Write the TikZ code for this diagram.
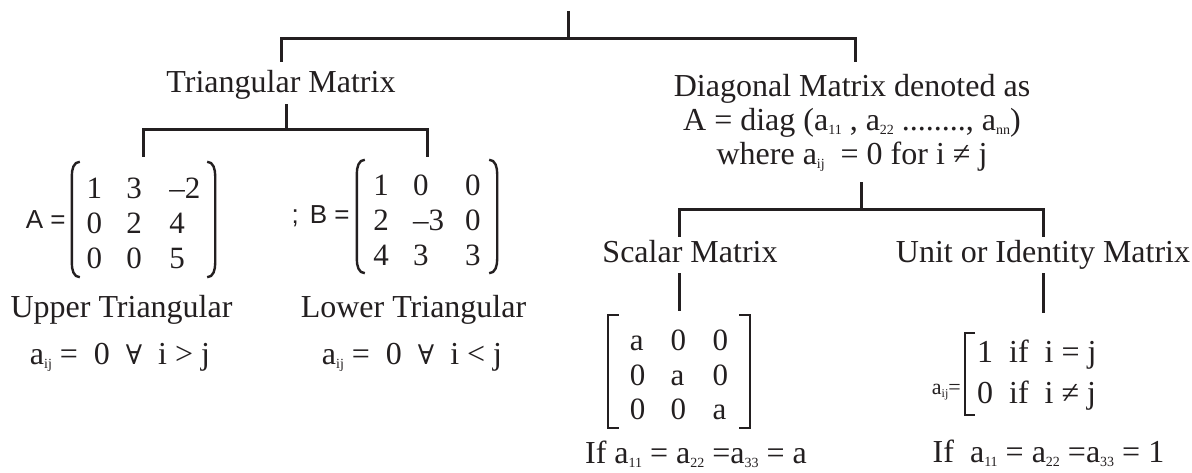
\documentclass[tikz,border=0pt]{standalone}
\usepackage{fontspec}
\setmainfont{Liberation Serif}
\newfontfamily\sansf{Liberation Sans}
\newfontfamily\symf{DejaVu Serif}
\definecolor{ink}{HTML}{231F20}
\newcommand\sbx[1]{\raisebox{-4pt}{\fontsize{14}{14}\selectfont #1}}
\newcommand\fall{{\symf\fontsize{27}{27}\selectfont ∀}}
\setlength\tabcolsep{0pt}
\tikzset{
 lbl/.style={font=\fontsize{32}{34}\selectfont, inner sep=0pt, text=ink, anchor=base},
 mat/.style={font=\fontsize{31}{35}\selectfont, inner sep=0pt, text=ink, anchor=base},
 eqs/.style={font=\sansf\fontsize{26}{26}\selectfont, inner sep=0pt, text=ink, anchor=east},
 conn/.style={draw=ink, line width=3pt},
 delim/.style={draw=ink, line width=2.4pt},
}
\newcommand\parenpair[1]{%
 \draw[delim] ([xshift=10pt]#1.north west) to[out=180,in=90] ([xshift=2pt,yshift=-14pt]#1.north west) -- ([xshift=2pt,yshift=14pt]#1.south west) to[out=-90,in=180] ([xshift=10pt]#1.south west);
 \draw[delim] ([xshift=-10pt]#1.north east) to[out=0,in=90] ([xshift=-2pt,yshift=-14pt]#1.north east) -- ([xshift=-2pt,yshift=14pt]#1.south east) to[out=-90,in=0] ([xshift=-10pt]#1.south east);}
\newcommand\sqpair[1]{%
 \draw[delim] ([xshift=13pt]#1.north west) -- ([xshift=2pt]#1.north west) -- ([xshift=2pt]#1.south west) -- ([xshift=13pt]#1.south west);
 \draw[delim] ([xshift=-13pt]#1.north east) -- ([xshift=-2pt]#1.north east) -- ([xshift=-2pt]#1.south east) -- ([xshift=-13pt]#1.south east);}
\begin{document}
\begin{tikzpicture}[x=1pt,y=-1pt]
\useasboundingbox (0,0) rectangle (1192,473);
\fill[white] (0,0) rectangle (1192,473);
% level 1
\coordinate (root) at (568,11);
\coordinate (j1) at (568,39);
\node[lbl, text height=31pt, text depth=11pt] (tri) at (281,93) {Triangular Matrix};
\node[lbl, text height=35pt, text depth=85pt] (diag) at (852,97) {\begin{tabular}[t]{c}Diagonal Matrix denoted as\\A = diag (a\sbx{11} , a\sbx{22} ........, a\sbx{nn})\\where a\sbx{ij} ~= 0 for i ≠ j\end{tabular}};
\draw[conn] (root) -- (j1);
\draw[conn] (tri.north) |- (j1) -| ([xshift=3pt]diag.north);
% triangular children
\node[mat, text height=37pt, text depth=78pt, minimum width=147pt] (matA) at (143.5,199) {\begin{tabular}[t]{p{40pt}p{43pt}l}1&3&–2\\0&2&4\\0&0&5\end{tabular}\hspace{5pt}};
\node[mat, text height=36pt, text depth=77pt, minimum width=144pt] (matB) at (427,196) {\begin{tabular}[t]{p{40pt}p{52pt}l}1&0&0\\2&–3&0\\4&3&3\end{tabular}\hspace{12.5pt}};
\parenpair{matA}
\parenpair{matB}
\node[eqs] (eqA) at ([xshift=-4pt]matA.west) {A =};
\node[eqs] (eqB) at ([xshift=-5pt]matB.west) {;\hspace{11pt}B =};
\coordinate (j2) at (286,130);
\draw[conn] (tri.south -| j2) -- (j2);
\draw[conn, shorten <=5pt, shorten >=3pt] (matA.north) |- (j2) -| (matB.north);
\node[lbl] (up) at (121.5,317) {Upper Triangular};
\node[lbl] (upc) at (120,364) {a\sbx{ij} = ~0 ~\fall{} ~i > j};
\node[lbl] (lo) at (413.5,317) {Lower Triangular};
\node[lbl] (loc) at (412,364) {a\sbx{ij} = ~0 ~\fall{} ~i < j};
% diagonal children
\coordinate (j3) at (861,210);
\coordinate (dl) at (679,210);
\coordinate (dr) at (1043,210);
\draw[conn] ([xshift=9pt]diag.south) -- (j3);
\node[lbl, text height=25pt, text depth=11pt] (sca) at (690,262) {Scalar Matrix};
\node[lbl, text height=25pt, text depth=11pt] (uni) at (1043,262) {Unit or Identity Matrix};
\draw[conn] (sca.north -| dl) |- (dr) -- (uni.north);
\node[mat, text height=35pt, text depth=78pt, minimum width=146pt] (matS) at (679,350) {\begin{tabular}[t]{p{41pt}p{42pt}l}a&0&0\\0&a&0\\0&0&a\end{tabular}\hspace{7.5pt}};
\sqpair{matS}
\draw[conn, shorten >=4pt] (sca.south -| dl) -- (matS.north);
\node[lbl, font=\fontsize{32}{41}\selectfont, anchor=base west, text height=29pt, text depth=53pt] (idm) at (963,362) {\hspace{14pt}\begin{tabular}[t]{l}1~~if~~i = j\\0~~if~~i ≠ j\end{tabular}};
\draw[delim] ([xshift=12pt]idm.north west) -- ([xshift=2pt]idm.north west) -- ([xshift=2pt]idm.south west) -- ([xshift=12pt]idm.south west);
\node[lbl, anchor=base east, font=\fontsize{22}{22}\selectfont] (aij) at (961,394) {a\raisebox{-3pt}{\fontsize{12}{12}\selectfont ij}=};
\draw[conn, shorten >=20pt] (uni.south) -- (uni.south |- idm.north);
\node[lbl] (sb) at (696,463) {If a\sbx{11} = a\sbx{22} =a\sbx{33} = a};
\node[lbl] (ub) at (1048.5,462) {If ~a\sbx{11} = a\sbx{22} =a\sbx{33} = 1};
\end{tikzpicture}
\end{document}
